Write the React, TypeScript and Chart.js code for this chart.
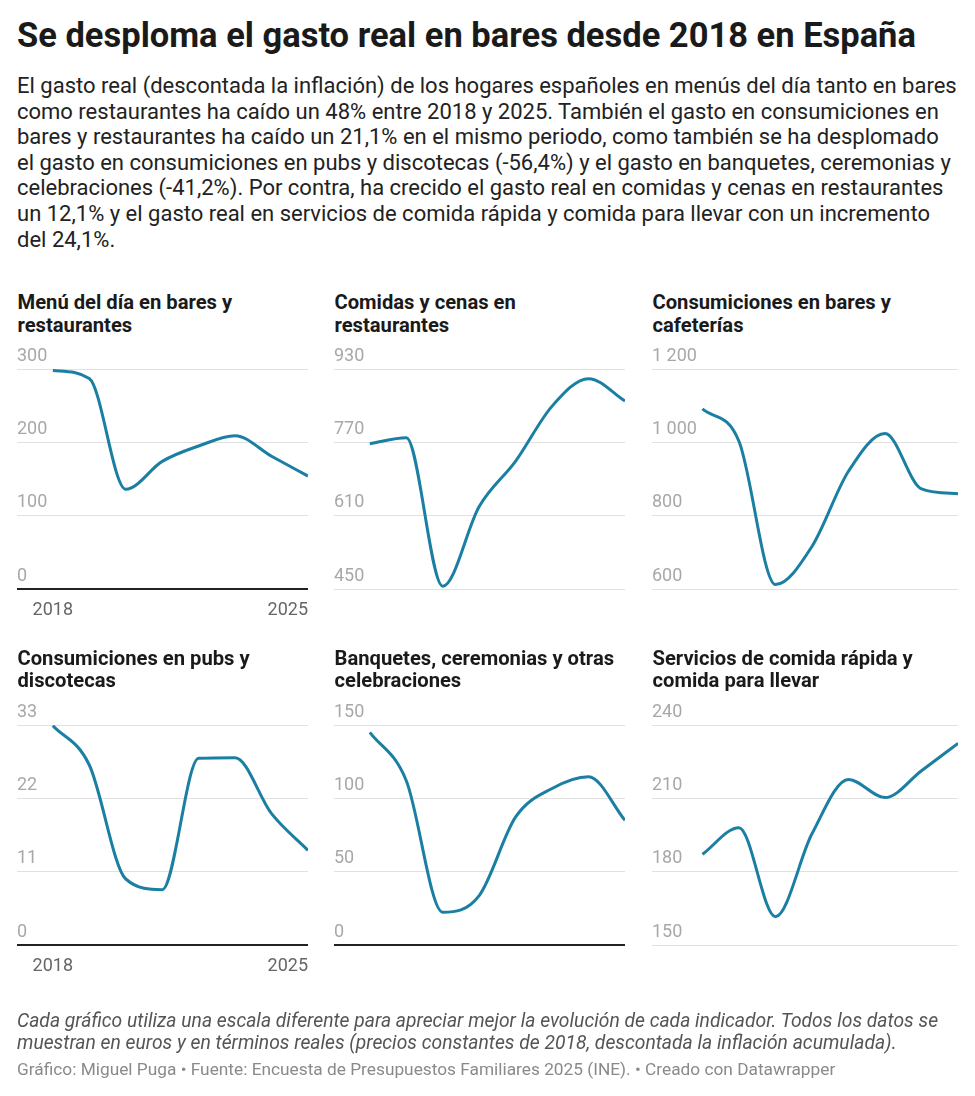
import React, { useEffect, useRef } from "react";
import { Chart, registerables } from "chart.js";

Chart.register(...registerables);

// ---------- data ----------
const years = ["2018", "2019", "2020", "2021", "2022", "2023", "2024", "2025"];

const menuDia = [298, 287, 136, 174, 195, 209, 181, 154];
const comidasCenas = [767, 780, 456, 630, 729, 849, 909, 860];
const baresCafeterias = [1091, 1003, 612, 716, 921, 1024, 873, 860];
const pubsDiscotecas = [32.9, 27.0, 9.9, 8.3, 28.0, 28.1, 19.7, 14.2];
const banquetes = [145, 112, 22.3, 33.7, 87.3, 106.7, 114.7, 85];
const comidaRapida = [187.1, 198, 161.6, 195.5, 217.7, 210.3, 221.3, 232.5];

const panelTitles = [
  ["Menú del día en bares y", "restaurantes"],
  ["Comidas y cenas en", "restaurantes"],
  ["Consumiciones en bares y", "cafeterías"],
  ["Consumiciones en pubs y", "discotecas"],
  ["Banquetes, ceremonias y otras", "celebraciones"],
  ["Servicios de comida rápida y", "comida para llevar"],
];
const panelSeries = [menuDia, comidasCenas, baresCafeterias, pubsDiscotecas, banquetes, comidaRapida];
const yMin = [0, 450, 600, 0, 0, 150];
const yMax = [300, 930, 1200, 33, 150, 240];
const yStep = [100, 160, 200, 11, 50, 30];
const showYears = [true, false, false, true, false, false];

const title = "Se desploma el gasto real en bares desde 2018 en España";
const subtitleLines = [
  "El gasto real (descontada la inflación) de los hogares españoles en menús del día tanto en bares",
  "como restaurantes ha caído un 48% entre 2018 y 2025. También el gasto en consumiciones en",
  "bares y restaurantes ha caído un 21,1% en el mismo periodo, como también se ha desplomado",
  "el gasto en consumiciones en pubs y discotecas (-56,4%) y el gasto en banquetes, ceremonias y",
  "celebraciones (-41,2%). Por contra, ha crecido el gasto real en comidas y cenas en restaurantes",
  "un 12,1% y el gasto real en servicios de comida rápida y comida para llevar con un incremento",
  "del 24,1%.",
];
const noteLines = [
  "Cada gráfico utiliza una escala diferente para apreciar mejor la evolución de cada indicador. Todos los datos se",
  "muestran en euros y en términos reales (precios constantes de 2018, descontada la inflación acumulada).",
];
const sourceText =
  "Gráfico: Miguel Puga • Fuente: Encuesta de Presupuestos Familiares 2025 (INE). • Creado con Datawrapper";

// ---------- layout / style ----------
const FONT = "Roboto, 'Noto Sans', sans-serif";
const LINE_COLOR = "#1a7fa2";
const AXIS_FONT_SIZE = 18;
const colX = [17, 334, 652];
const colW = [291, 291, 306];
const rowY = [291.3, 647];

function fmt(v: number): string {
  const s = String(Math.round(v));
  return s.replace(/\B(?=(\d{3})+(?!\d))/g, " ");
}

// all tick label strings of the panels in the same column (plots in a column share their left edge)
function columnLabels(col: number): string[] {
  const out: string[] = [];
  for (let i = col; i < panelSeries.length; i += 3) {
    for (let v = yMin[i]; v <= yMax[i] + 1e-9; v += yStep[i]) out.push(fmt(v));
  }
  return out;
}

const yearEndsPlugin = {
  id: "yearEnds",
  afterDraw(chart: any, _args: any, opts: any) {
    if (!opts || !opts.show) return;
    const { ctx, chartArea } = chart;
    const xs = chart.scales.x;
    const labels = chart.data.labels as string[];
    ctx.save();
    ctx.font = `${AXIS_FONT_SIZE}px Roboto`;
    ctx.fillStyle = "#666666";
    ctx.textBaseline = "alphabetic";
    const y = chartArea.bottom + 25.7;
    ctx.textAlign = "center";
    ctx.fillText(labels[0], xs.getPixelForValue(0), y);
    ctx.textAlign = "right";
    ctx.fillText(labels[labels.length - 1], xs.getPixelForValue(labels.length - 1), y);
    ctx.restore();
  },
};

function SmallChart({ idx }: { idx: number }) {
  const ref = useRef<HTMLCanvasElement | null>(null);
  useEffect(() => {
    if (!ref.current) return;
    const colLabels = columnLabels(idx % 3);
    const chart = new Chart(ref.current, {
      type: "line",
      data: {
        labels: years,
        datasets: [
          {
            data: panelSeries[idx],
            borderColor: LINE_COLOR,
            borderWidth: 3,
            pointRadius: 0,
            pointHoverRadius: 0,
            cubicInterpolationMode: "monotone",
            fill: false,
          },
        ],
      },
      plugins: [yearEndsPlugin],
      options: {
        animation: false,
        responsive: true,
        maintainAspectRatio: false,
        layout: { padding: { top: 33, bottom: 58, left: 0, right: 0 } },
        plugins: {
          legend: { display: false },
          tooltip: { enabled: false },
          yearEnds: { show: showYears[idx] },
        } as any,
        scales: {
          x: { type: "category", display: false, offset: false },
          y: {
            type: "linear",
            min: yMin[idx],
            max: yMax[idx],
            border: { display: false },
            ticks: {
              stepSize: yStep[idx],
              crossAlign: "far",
              padding: 0,
              labelOffset: -13,
              color: "#a8a8a8",
              font: { family: "Roboto", size: AXIS_FONT_SIZE },
              callback: (v: any) => fmt(Number(v)),
            },
            grid: {
              color: (c: any) => (c.tick && c.tick.value === 0 ? "#222222" : "#e1e1e1"),
              lineWidth: (c: any) => (c.tick && c.tick.value === 0 ? 2 : 1),
              tickLength: 80,
              drawTicks: true,
            },
            afterFit: (scale: any) => {
              const ctx = scale.ctx;
              ctx.save();
              ctx.font = `${AXIS_FONT_SIZE}px Roboto`;
              let w = 0;
              for (const l of colLabels) w = Math.max(w, ctx.measureText(l).width);
              ctx.restore();
              scale.width = w + 5.5;
            },
          },
        },
      } as any,
    });
    return () => chart.destroy();
  }, [idx]);
  return (
    <div style={{ position: "relative", width: "100%", height: 311 }}>
      <canvas ref={ref} />
    </div>
  );
}

export default function App() {
  return (
    <div
      style={{
        position: "absolute",
        left: 0,
        top: 0,
        width: 975,
        height: 1096,
        fontFamily: FONT,
        background: "#ffffff",
        overflow: "hidden",
      }}
    >
      <div
        style={{
          position: "absolute",
          left: 17,
          top: 16.8,
          fontSize: 34.5,
          lineHeight: "36px",
          fontWeight: 700,
          color: "#1a1a1a",
          whiteSpace: "nowrap",
        }}
      >
        {title}
      </div>
      <div
        style={{
          position: "absolute",
          left: 17,
          top: 73,
          fontSize: 22,
          lineHeight: "25.6px",
          color: "#222222",
          whiteSpace: "nowrap",
        }}
      >
        {subtitleLines.map((l, i) => (
          <div key={i}>{l}</div>
        ))}
      </div>

      {panelTitles.map((t, i) => {
        const c = i % 3;
        const r = Math.floor(i / 3);
        return (
          <div
            key={i}
            style={{ position: "absolute", left: colX[c], top: rowY[r], width: colW[c] }}
          >
            <div
              style={{
                fontSize: 20.2,
                lineHeight: "22.4px",
                fontWeight: 700,
                color: "#1a1a1a",
                height: 44.8,
                whiteSpace: "nowrap",
                paddingLeft: 0.5,
              }}
            >
              <div>{t[0]}</div>
              <div>{t[1]}</div>
            </div>
            <SmallChart idx={i} />
          </div>
        );
      })}

      <div
        style={{
          position: "absolute",
          left: 17,
          top: 1009.8,
          fontSize: 19.3,
          lineHeight: "22px",
          fontStyle: "italic",
          color: "#555555",
          whiteSpace: "nowrap",
        }}
      >
        {noteLines.map((l, i) => (
          <div key={i}>{l}</div>
        ))}
      </div>
      <div
        style={{
          position: "absolute",
          left: 17,
          top: 1059.2,
          fontSize: 17.3,
          lineHeight: "20px",
          color: "#8a8a8a",
          whiteSpace: "nowrap",
        }}
      >
        {sourceText}
      </div>
    </div>
  );
}
